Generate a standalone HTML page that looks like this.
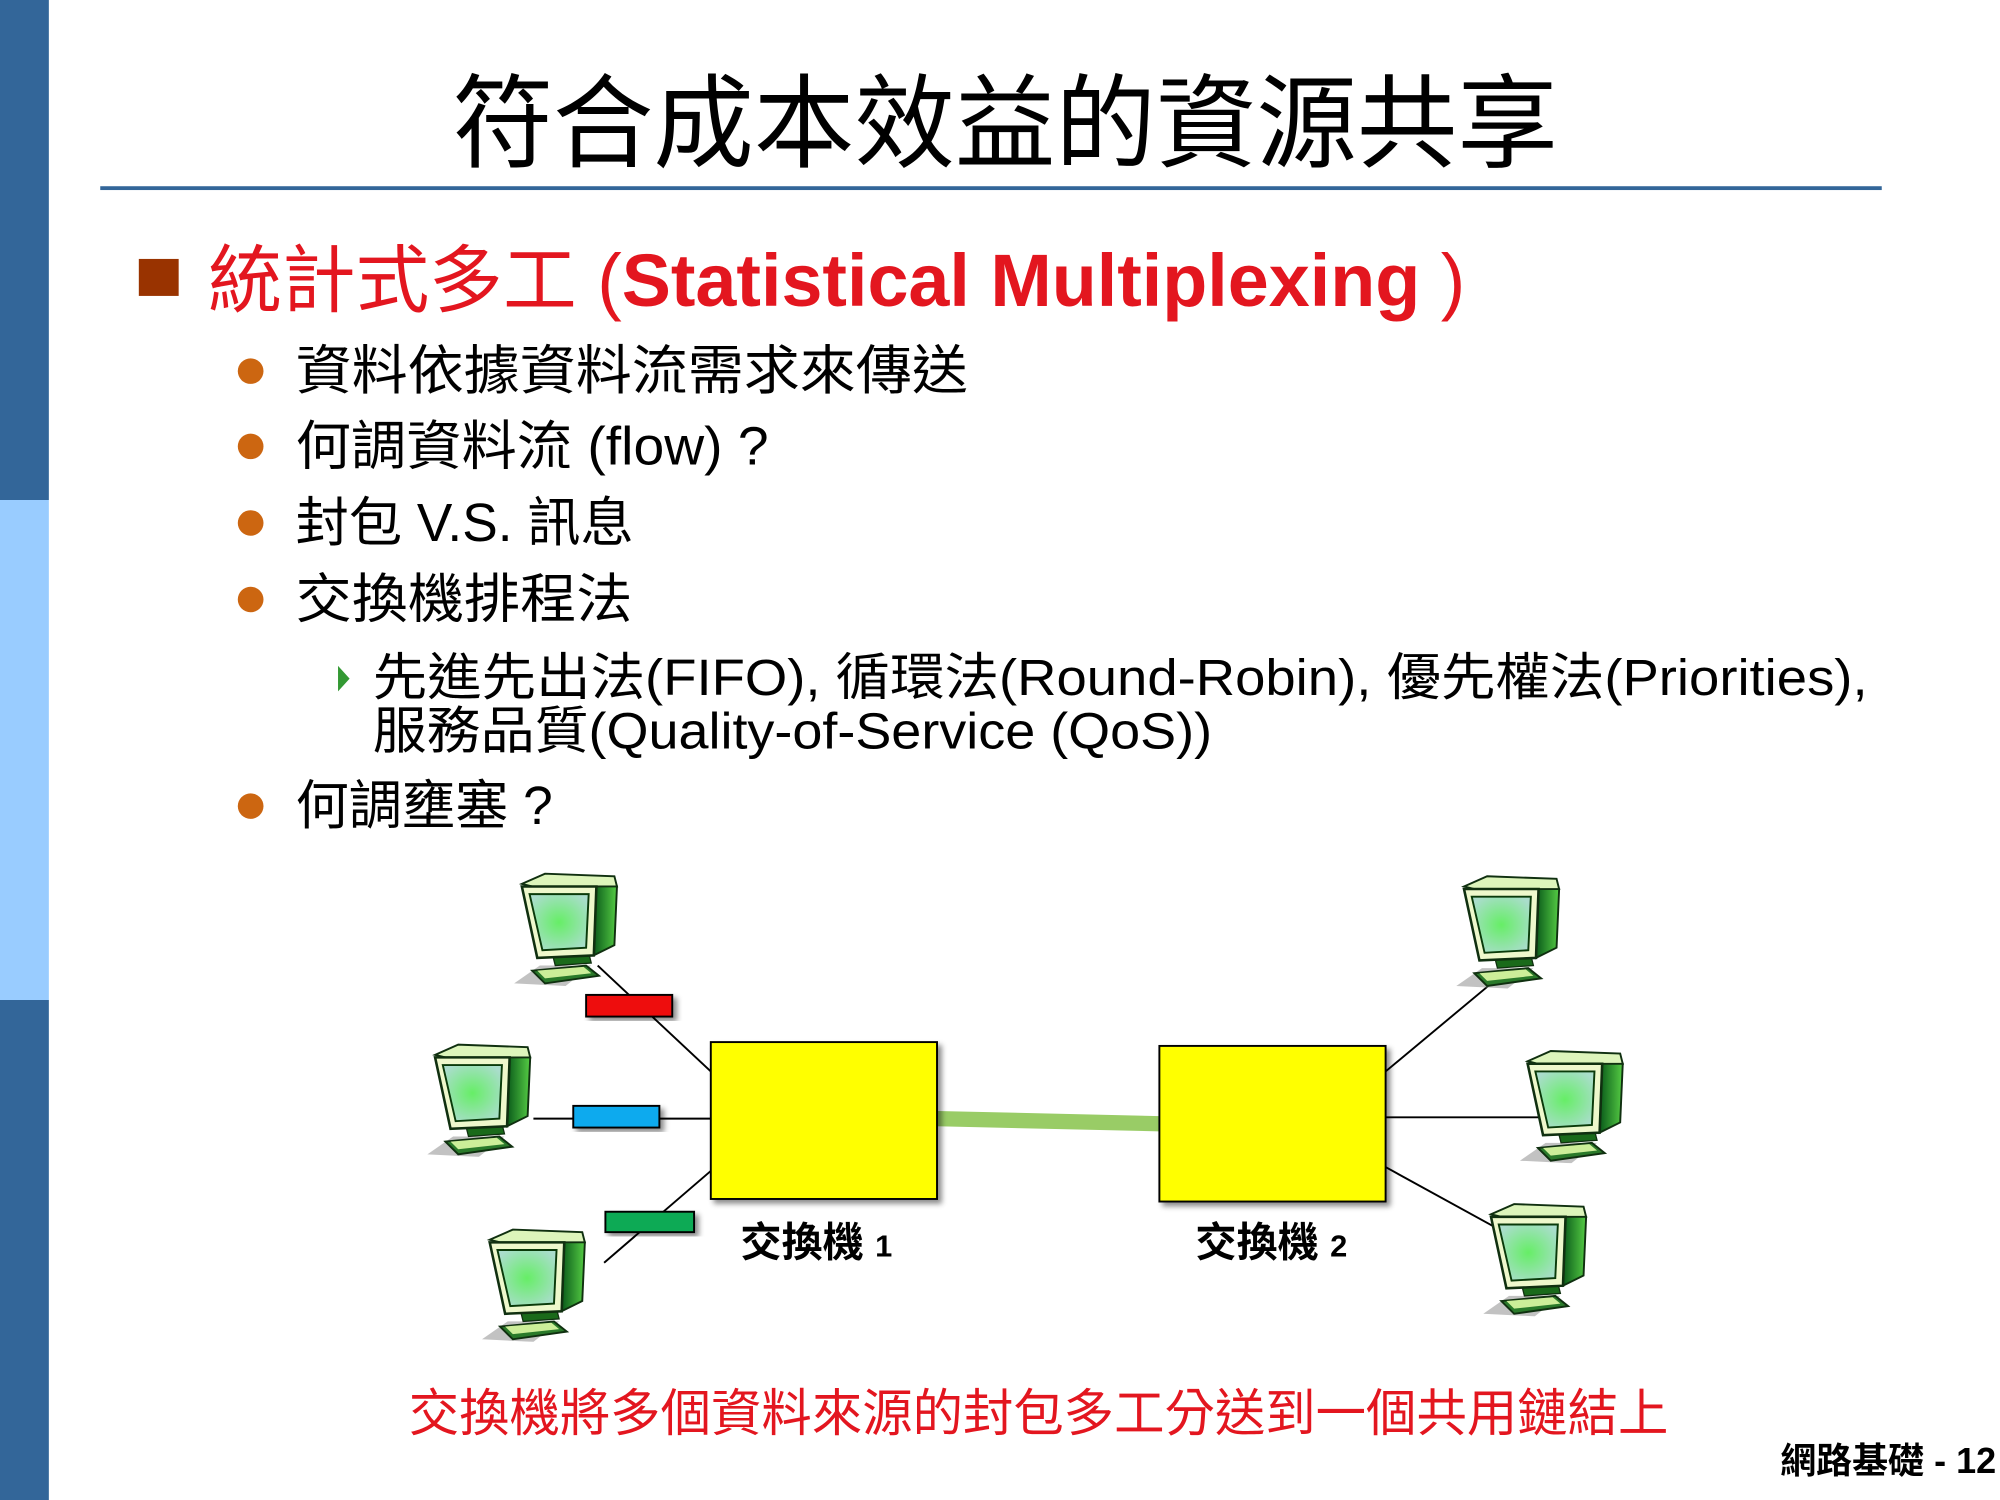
<!DOCTYPE html>
<html><head><meta charset="utf-8"><style>
html,body{margin:0;padding:0;background:#fff;}
svg{display:block;}
text{font-family:"Liberation Sans","Noto Sans CJK TC",sans-serif;}
</style></head><body>
<svg width="2000" height="1500" viewBox="0 0 1556 1176" preserveAspectRatio="none" xmlns="http://www.w3.org/2000/svg">
<defs>
<radialGradient id="scr" cx="0.5" cy="0.5" r="0.6"><stop offset="0" stop-color="#66ee66"/><stop offset="1" stop-color="#aaddcc"/></radialGradient>
<linearGradient id="side" x1="0" y1="0" x2="1" y2="0"><stop offset="0" stop-color="#0a5a1a"/><stop offset="1" stop-color="#55cc44"/></linearGradient>
<filter id="sh" x="-10%" y="-10%" width="130%" height="130%"><feDropShadow dx="3" dy="3" stdDeviation="2" flood-color="#000" flood-opacity="0.45"/></filter>
<symbol id="pc" viewBox="0 0 90 90">
<polygon points="0,88 20,74 60,74 40,90" fill="#999" opacity="0.6"/>
<polygon points="14,78 56,74 66,82 24,88" fill="#2a7a2a" stroke="#103010" stroke-width="1.5"/>
<polygon points="18,78 54,75 60,80 24,84" fill="#ccee99"/>
<polygon points="30,66 58,64 60,72 32,74" fill="#1a6a1a" stroke="#103010"/>
<polygon points="64,10 80,12 78,58 62,66" fill="url(#side)" stroke="#103010" stroke-width="1.5"/>
<polygon points="6,10 24,2 78,4 80,12 64,12 14,12" fill="#ddf5bb" stroke="#103010" stroke-width="1.5"/>
<polygon points="6,12 64,12 62,66 18,68" fill="#eef8cc" stroke="#103010" stroke-width="2"/>
<polygon points="12,18 58,18 56,60 22,62" fill="url(#scr)" stroke="#0a3a0a" stroke-width="1.5"/>
</symbol>
</defs>
<rect x="0" y="0" width="38" height="392" fill="#336699"/>
<rect x="0" y="392" width="38" height="392" fill="#99ccff"/>
<rect x="0" y="784" width="38" height="392" fill="#336699"/>
<text x="782" y="125" font-size="80" text-anchor="middle" fill="#000" textLength="860" lengthAdjust="spacingAndGlyphs">符合成本效益的資源共享</text>
<rect x="78" y="146" width="1386" height="3" fill="#336699"/>
<rect x="108" y="203" width="31" height="29" fill="#993300"/>
<text x="162" y="240" font-size="58" fill="#e3161f" textLength="978" lengthAdjust="spacingAndGlyphs">統計式多工 (<tspan font-weight="bold">Statistical Multiplexing</tspan> )</text>
<g fill="#cc6611"><circle cx="195" cy="291" r="10"/><circle cx="195" cy="350" r="10"/><circle cx="195" cy="410" r="10"/><circle cx="195" cy="470" r="10"/><circle cx="195" cy="632" r="10"/></g>
<g font-size="42" fill="#000">
<text x="230" y="305" textLength="523" lengthAdjust="spacingAndGlyphs">資料依據資料流需求來傳送</text>
<text x="230" y="364" textLength="368" lengthAdjust="spacingAndGlyphs">何調資料流 (flow) ?</text>
<text x="230" y="424" textLength="263" lengthAdjust="spacingAndGlyphs">封包 V.S. 訊息</text>
<text x="230" y="484" textLength="262" lengthAdjust="spacingAndGlyphs">交換機排程法</text>
<text x="230" y="646" textLength="200" lengthAdjust="spacingAndGlyphs">何調壅塞 ?</text>
</g>
<polygon points="263,522 272,532 263,542" fill="#339933"/>
<g font-size="40" fill="#000">
<text x="290" y="545" textLength="1163" lengthAdjust="spacingAndGlyphs">先進先出法(FIFO), 循環法(Round-Robin), 優先權法(Priorities),</text>
<text x="290" y="587" textLength="653" lengthAdjust="spacingAndGlyphs">服務品質(Quality-of-Service (QoS))</text>
</g>
<g stroke="#000" stroke-width="1.5">
<line x1="465" y1="757" x2="553" y2="840"/>
<line x1="415" y1="877" x2="553" y2="877"/>
<line x1="470" y1="990" x2="553" y2="918"/>
<line x1="1078" y1="840" x2="1165" y2="767"/>
<line x1="1078" y1="876" x2="1200" y2="876"/>
<line x1="1078" y1="915" x2="1172" y2="967"/>
</g>
<line x1="729" y1="877" x2="902" y2="881" stroke="#99cc66" stroke-width="12"/>
<rect x="553" y="817" width="176" height="123" fill="#ffff00" stroke="#000" stroke-width="1.5" filter="url(#sh)"/>
<rect x="902" y="820" width="176" height="122" fill="#ffff00" stroke="#000" stroke-width="1.5" filter="url(#sh)"/>
<rect x="456" y="780" width="67" height="17" fill="#ee1111" stroke="#000" stroke-width="1.5" filter="url(#sh)"/>
<rect x="446" y="867" width="67" height="17" fill="#11aaee" stroke="#000" stroke-width="1.5" filter="url(#sh)"/>
<rect x="471" y="950" width="69" height="16" fill="#11aa55" stroke="#000" stroke-width="1.5" filter="url(#sh)"/>
<use href="#pc" x="395" y="683" width="100" height="90"/>
<use href="#pc" x="325" y="817" width="105" height="90"/>
<use href="#pc" x="370" y="962" width="100" height="90"/>
<use href="#pc" x="1128" y="685" width="100" height="90"/>
<use href="#pc" x="1175" y="822" width="105" height="90"/>
<use href="#pc" x="1145" y="942" width="108" height="90"/>
<text x="576" y="985" font-size="32" font-weight="bold" fill="#000">交換機 <tspan font-size="24">1</tspan></text>
<text x="930" y="985" font-size="32" font-weight="bold" fill="#000">交換機 <tspan font-size="24">2</tspan></text>
<text x="318" y="1122" font-size="40" fill="#e3161f" textLength="980" lengthAdjust="spacingAndGlyphs">交換機將多個資料來源的封包多工分送到一個共用鏈結上</text>
<text x="1553" y="1155" font-size="28" font-weight="bold" fill="#000" text-anchor="end">網路基礎 - 12</text>
</svg>
</body></html>
